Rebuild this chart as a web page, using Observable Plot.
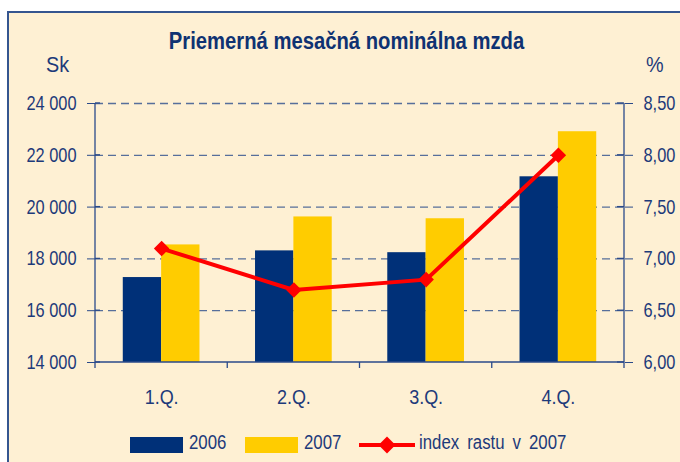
<!DOCTYPE html>
<html><head><meta charset="utf-8">
<script src="https://cdn.jsdelivr.net/npm/d3@7"></script>
<script src="https://cdn.jsdelivr.net/npm/@observablehq/plot@0.6"></script>
<style>
body{margin:0;width:680px;height:462px;overflow:hidden;background:#fff;position:relative;
  font-family:"Liberation Sans",Arial,sans-serif;color:#1D3A7A}
#panel{position:absolute;left:7px;top:11px;width:700px;height:470px;background:#FEF0D3;
  border-left:2px solid #35558F;border-top:2px solid #35558F}
.abs{position:absolute;white-space:nowrap}
#title{top:30px;left:0;width:693px;text-align:center;font-weight:bold;font-size:23px;line-height:23px;color:#0F3272;transform:scaleX(0.88);transform-origin:346.5px 0}
#sk{top:54px;left:46px;font-size:22px;line-height:22px;transform:scaleX(0.9);transform-origin:0 0}
#pct{top:54px;left:646px;font-size:22px;line-height:22px;transform:scaleX(0.9);transform-origin:0 0}
#chart{position:absolute;left:0;top:0}
.sw{position:absolute;height:16px;top:437px}
.lt{position:absolute;top:432px;font-size:20px;line-height:20px;word-spacing:4px;transform:scaleX(0.84);transform-origin:0 0}
</style></head>
<body>
<div id="panel"></div>
<div id="title" class="abs">Priemerná mesačná nominálna mzda</div>
<div id="sk" class="abs">Sk</div>
<div id="pct" class="abs">%</div>
<div id="chart"></div>
<div id="legend"></div>
<script>
const quarters = ["1.Q.", "2.Q.", "3.Q.", "4.Q."];
const wage2006 = [17280, 18310, 18240, 21170];
const wage2007 = [18540, 19620, 19550, 22910];
const growth2007 = [7.1, 6.7, 6.8, 8.0];
const skTicks = [14000, 16000, 18000, 20000, 22000, 24000];
const pctTicks = [6.0, 6.5, 7.0, 7.5, 8.0, 8.5];
const seriesNames = ["2006", "2007", "index rastu v 2007"];

const navy = "#003078", gold = "#FFCC00", red = "#FF0000", axisCol = "#2A4A8A";
const W = 680, H = 420, ML = 95, MR = 56, MT = 103, MB = 58;
const skMin = skTicks[0], skMax = skTicks[skTicks.length - 1];
const pMin = pctTicks[0], pMax = pctTicks[pctTicks.length - 1];
const toSk = p => skMin + (p - pMin) * (skMax - skMin) / (pMax - pMin);
const toPct = s => pMin + (s - skMin) * (pMax - pMin) / (skMax - skMin);
const fmtSk = d => d3.format(",")(d).replace(/,/g, " ");
const fmtPct = d => d3.format(".2f")(d).replace(".", ",");

const rows = quarters.map((q, i) => ({q, w06: wage2006[i], w07: wage2007[i], g: growth2007[i]}));
const padIn = 0.42, padOut = padIn / 2;
const step = (W - ML - MR) / quarters.length;
const half = step * (1 - padIn) / 2;

const frameMarks = (index, scales, values, dims) => {
  const g = d3.create("svg:g").attr("stroke", axisCol).attr("stroke-width", 1.3);
  const x0 = dims.marginLeft, x1 = dims.width - dims.marginRight;
  const yb = dims.height - dims.marginBottom, yt = dims.marginTop;
  g.append("line").attr("x1", x0).attr("x2", x1).attr("y1", yb).attr("y2", yb);
  g.append("line").attr("x1", x0).attr("x2", x0).attr("y1", yt).attr("y2", yb + 6);
  g.append("line").attr("x1", x1).attr("x2", x1).attr("y1", yt).attr("y2", yb + 6);
  for (let k = 1; k < quarters.length; k++) {
    const xx = x0 + k * step;
    g.append("line").attr("x1", xx).attr("x2", xx).attr("y1", yb).attr("y2", yb + 6);
  }
  for (const t of skTicks) {
    const yy = scales.y(t);
    g.append("line").attr("x1", x0).attr("x2", x0 + 5).attr("y1", yy).attr("y2", yy);
    g.append("line").attr("x1", x1 - 7).attr("x2", x1).attr("y1", yy).attr("y2", yy);
  }
  return g.node();
};

const plot = Plot.plot({
  width: W, height: H,
  marginLeft: ML, marginRight: MR, marginTop: MT, marginBottom: MB,
  style: {background: "transparent", fontFamily: '"Liberation Sans",Arial,sans-serif', fontSize: "20px", color: "#1D3A7A", overflow: "visible"},
  x: {domain: quarters, paddingInner: padIn, paddingOuter: padOut, round: false, label: null},
  y: {domain: [skMin, skMax], label: null},
  marks: [
    Plot.gridY(skTicks.slice(1), {stroke: "#3A5890", strokeOpacity: 0.85, strokeWidth: 1.3, strokeDasharray: "8,5"}),
    Plot.barY(rows, {x: "q", y1: () => skMin, y2: "w06", fill: navy, insetRight: half}),
    Plot.barY(rows, {x: "q", y1: () => skMin, y2: "w07", fill: gold, insetLeft: half}),
    frameMarks,
    Plot.axisY(skTicks, {anchor: "left", tickSize: 8, tickPadding: 11, tickFormat: fmtSk, stroke: axisCol, fontSize: 20, label: null}),
    Plot.axisY(pctTicks.map(toSk), {anchor: "right", tickSize: 8, tickPadding: 11, tickFormat: d => fmtPct(toPct(d)), stroke: axisCol, fontSize: 20, label: null}),
    Plot.axisX(quarters, {tickSize: 0, tickPadding: 27, fontSize: 20, label: null}),
    Plot.line(rows, {x: "q", y: d => toSk(d.g), stroke: red, strokeWidth: 4}),
    Plot.dot(rows, {x: "q", y: d => toSk(d.g), symbol: "diamond2", r: 7, fill: red, stroke: "none"})
  ]
});
document.getElementById("chart").appendChild(plot);

// condense tick label glyphs horizontally around their anchor (reference uses a narrow face)
plot.querySelectorAll("text").forEach(t => {
  const isX = /^\d\.Q\.$/.test(t.textContent.trim());
  const f = isX ? 0.9 : 0.82;
  const x = parseFloat(t.getAttribute("x")) || 0;
  const tr = t.getAttribute("transform") || "";
  t.setAttribute("transform", `${tr} translate(${x},0) scale(${f},1) translate(${-x},0)`.trim());
});

const leg = document.getElementById("legend");
const items = [
  {type: "bar", color: navy, sx: 130, tx: 189},
  {type: "bar", color: gold, sx: 245, tx: 304},
  {type: "line", color: red, sx: 359, tx: 419}
];
items.forEach((it, i) => {
  if (it.type === "bar") {
    const s = document.createElement("div");
    s.className = "sw"; s.style.left = it.sx + "px"; s.style.width = "53px"; s.style.background = it.color;
    leg.appendChild(s);
  } else {
    const s = d3.create("svg").attr("width", 56).attr("height", 20)
      .style("position", "absolute").style("left", it.sx + "px").style("top", "435px");
    s.append("line").attr("x1", 0).attr("x2", 56).attr("y1", 10).attr("y2", 10).attr("stroke", it.color).attr("stroke-width", 4);
    s.append("path").attr("d", "M28,1.5L36.5,10L28,18.5L19.5,10Z").attr("fill", it.color);
    leg.appendChild(s.node());
  }
  const t = document.createElement("div");
  t.className = "lt"; t.style.left = it.tx + "px"; t.textContent = seriesNames[i];
  leg.appendChild(t);
});
</script>
</body></html>
